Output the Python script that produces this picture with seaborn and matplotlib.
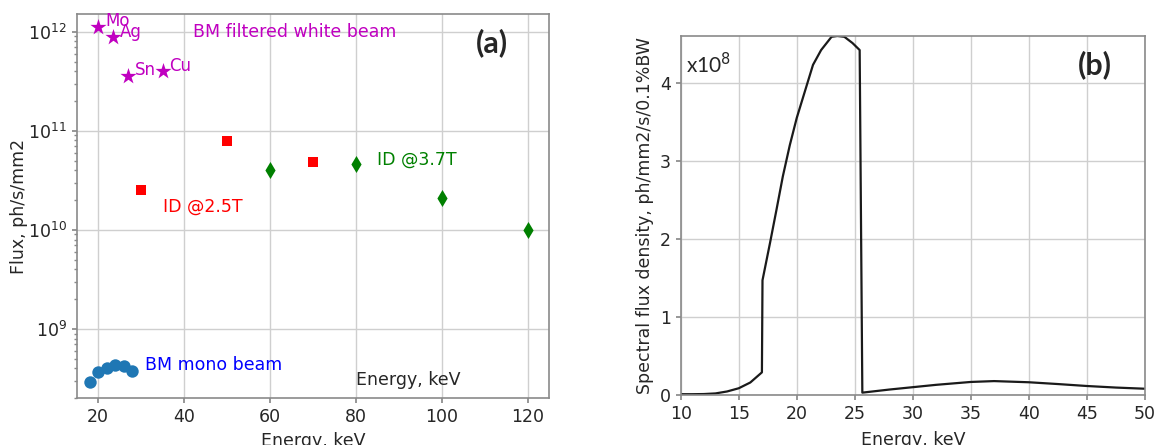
import matplotlib
matplotlib.use('Agg')
import matplotlib.pyplot as plt
import seaborn as sns

# panel (a) data
mono_energy = [18, 20, 22, 24, 26, 28]
mono_flux = [2.9e8, 3.7e8, 4.0e8, 4.3e8, 4.2e8, 3.75e8]

white_energy = [20, 23.5, 27, 35]
white_flux = [1.12e12, 8.8e11, 3.6e11, 4.0e11]
white_labels = ['Mo', 'Ag', 'Sn', 'Cu']

id25_energy = [30, 50, 70]
id25_flux = [2.5e10, 7.9e10, 4.8e10]

id37_energy = [60, 80, 100, 120]
id37_flux = [4.0e10, 4.6e10, 2.1e10, 1.0e10]

# panel (b) spectrum, in units of 1e8
spec_energy = [10, 11, 12, 13, 14, 15, 16, 17.0, 17.05, 17.7, 18.25, 18.8, 19.4,
               20.0, 20.7, 21.4, 22.1, 23.0, 23.5, 24.1, 24.8, 25.42, 25.65,
               28, 30, 32, 35, 37, 40, 42.5, 45, 47.5, 50]
spec_flux = [0.01, 0.01, 0.012, 0.02, 0.045, 0.086, 0.16, 0.29, 1.47, 1.95, 2.37,
             2.8, 3.2, 3.55, 3.89, 4.23, 4.42, 4.59, 4.60, 4.59, 4.51, 4.42, 0.03,
             0.07, 0.10, 0.13, 0.167, 0.178, 0.163, 0.14, 0.115, 0.095, 0.08]

sns.set_theme(style='ticks', rc={
    'axes.grid': True,
    'grid.color': '#cfcfcf',
    'grid.linewidth': 1.0,
    'axes.edgecolor': '#8a8a8a',
    'axes.linewidth': 1.2,
    'xtick.color': '#8a8a8a',
    'ytick.color': '#8a8a8a',
    'xtick.labelcolor': '#262626',
    'ytick.labelcolor': '#262626',
    'xtick.major.size': 3.5,
    'ytick.major.size': 3.5,
    'ytick.minor.size': 2,
    'font.size': 12.5,
    'axes.labelsize': 12.5,
    'xtick.labelsize': 12.5,
    'ytick.labelsize': 12.5,
})
plt.rcParams['font.family'] = ['DejaVu Sans']

MAGENTA = '#c000c0'

fig = plt.figure(figsize=(11.56, 4.45), dpi=100)
ax1 = fig.add_axes([0.0663, 0.105, 0.4086, 0.863])
ax2 = fig.add_axes([0.5888, 0.1124, 0.4017, 0.8067])

# (a) flux vs energy
sns.scatterplot(x=mono_energy, y=mono_flux, color='#1f77b4', marker='o', s=80,
                linewidth=0, ax=ax1, zorder=3)
sns.scatterplot(x=white_energy, y=white_flux, color=MAGENTA, marker='*', s=150,
                linewidth=0, ax=ax1, zorder=3)
sns.scatterplot(x=id25_energy, y=id25_flux, color='red', marker='s', s=55,
                linewidth=0, ax=ax1, zorder=3)
sns.scatterplot(x=id37_energy, y=id37_flux, color='green', marker='d', s=75,
                linewidth=0, ax=ax1, zorder=3)

for x, y, lbl in zip(white_energy, white_flux, white_labels):
    ax1.annotate(lbl, (x, y), xytext=(5, 4), textcoords='offset points',
                 color=MAGENTA, fontsize=12, ha='left', va='center')

ax1.set_yscale('log')
ax1.set_xlim(15, 125)
ax1.set_ylim(2.0e8, 1.5e12)
ax1.set_xlabel('Energy, keV')
ax1.set_ylabel('Flux, ph/s/mm2', labelpad=0)

ax1.text(42, 1.0e12, 'BM filtered white beam', color=MAGENTA, fontsize=12.5,
         va='center')
ax1.text(35, 1.72e10, 'ID @2.5T', color='red', fontsize=12.5, va='center')
ax1.text(85, 5.1e10, 'ID @3.7T', color='green', fontsize=12.5, va='center')
ax1.text(31, 4.35e8, 'BM mono beam', color='blue', fontsize=12.5, va='center')
ax1.text(80, 3.05e8, 'Energy, keV', color='#262626', fontsize=12.5, va='center')
ax1.text(0.845, 0.925, '(a)', transform=ax1.transAxes, fontsize=22,
         fontweight='bold', family=['Lato', 'DejaVu Sans'], va='center')

# (b) spectral flux density
sns.lineplot(x=spec_energy, y=spec_flux, color='k', linewidth=1.6,
             estimator=None, sort=False, ax=ax2)
ax2.set_xlim(10, 50)
ax2.set_ylim(0, 4.6)
ax2.set_xticks(range(10, 51, 5))
ax2.set_yticks(range(0, 5))
ax2.set_xlabel('Energy, keV', labelpad=6)
ax2.set_ylabel('Spectral flux density, ph/mm2/s/0.1%BW')
ax2.text(0.012, 0.92, 'x10$^{8}$', transform=ax2.transAxes, fontsize=15,
         family=['Lato', 'DejaVu Sans'], va='center')
ax2.text(0.855, 0.92, '(b)', transform=ax2.transAxes, fontsize=22,
         fontweight='bold', family=['Lato', 'DejaVu Sans'], va='center')

fig.savefig('out.png', dpi=100)
